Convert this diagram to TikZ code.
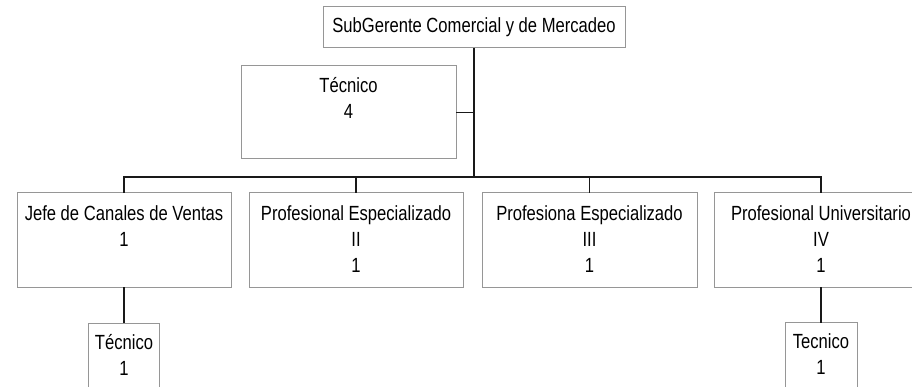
\documentclass[tikz,border=0pt]{standalone}
\usepackage{fontspec}
\setmainfont{Liberation Sans}[FakeStretch=0.81]
\definecolor{bordergray}{RGB}{150,150,150}
\definecolor{connblack}{RGB}{25,25,25}
\begin{document}
\begin{tikzpicture}[x=1pt,y=-1pt,
  orgbox/.style={draw=bordergray, line width=1pt, fill=white, inner sep=0pt, outer sep=0pt},
  lbl/.style={inner sep=0pt, outer sep=0pt, align=center, anchor=north,
    font=\fontsize{20.5}{26}\selectfont},
  conn/.style={draw=connblack, line width=1.3pt}]
\useasboundingbox (0,0) rectangle (912,387);
% boxes
\node[orgbox, minimum width=302pt, minimum height=41pt] (top) at (474,27.5) {};
\node[orgbox, minimum width=215pt, minimum height=93pt] (tec4) at (348.5,112.5) {};
\node[orgbox, minimum width=214pt, minimum height=94pt] (b1) at (124,240) {};
\node[orgbox, minimum width=214pt, minimum height=94pt] (b2) at (356,240) {};
\node[orgbox, minimum width=215pt, minimum height=94pt] (b3) at (589.5,240) {};
\node[orgbox, minimum width=214pt, minimum height=94pt] (b4) at (821,240) {};
\node[orgbox, minimum width=71pt, minimum height=100pt] (bt1) at (124,373) {};
\node[orgbox, minimum width=72pt, minimum height=100pt] (bt2) at (821,372.5) {};
% texts
\node[lbl, anchor=center] (top-t) at (top.center) {\strut SubGerente Comercial y de Mercadeo};
\node[lbl] (tec4-t) at ([yshift=-11pt]tec4.north) {Técnico\\4};
\node[lbl] (b1-t) at ([yshift=-13pt]b1.north) {Jefe de Canales de Ventas\\1};
\node[lbl] (b2-t) at ([yshift=-13pt]b2.north) {Profesional Especializado\\II\\1};
\node[lbl] (b3-t) at ([yshift=-13pt]b3.north) {Profesiona Especializado\\III\\1};
\node[lbl] (b4-t) at ([yshift=-13pt]b4.north) {Profesional Universitario\\IV\\1};
\node[lbl] (bt1-t) at ([yshift=-11.5pt]bt1.north) {Técnico\\1};
\node[lbl] (bt2-t) at ([yshift=-11.5pt]bt2.north) {Tecnico\\1};
% connectors
\coordinate (busy) at (0,177);
\draw[conn] (top.south) -- (top.south |- busy);
\draw[conn] (tec4.east) -- (tec4.east -| top.south);
\draw[conn] (b1.north) -- (b1.north |- busy) -- (b4.north |- busy) -- (b4.north);
\draw[conn] (b2.north) -- (b2.north |- busy);
\draw[conn] (b3.north) -- (b3.north |- busy);
\draw[conn] (b1.south) -- (bt1.north);
\draw[conn] (b4.south) -- (bt2.north);
\end{tikzpicture}
\end{document}
